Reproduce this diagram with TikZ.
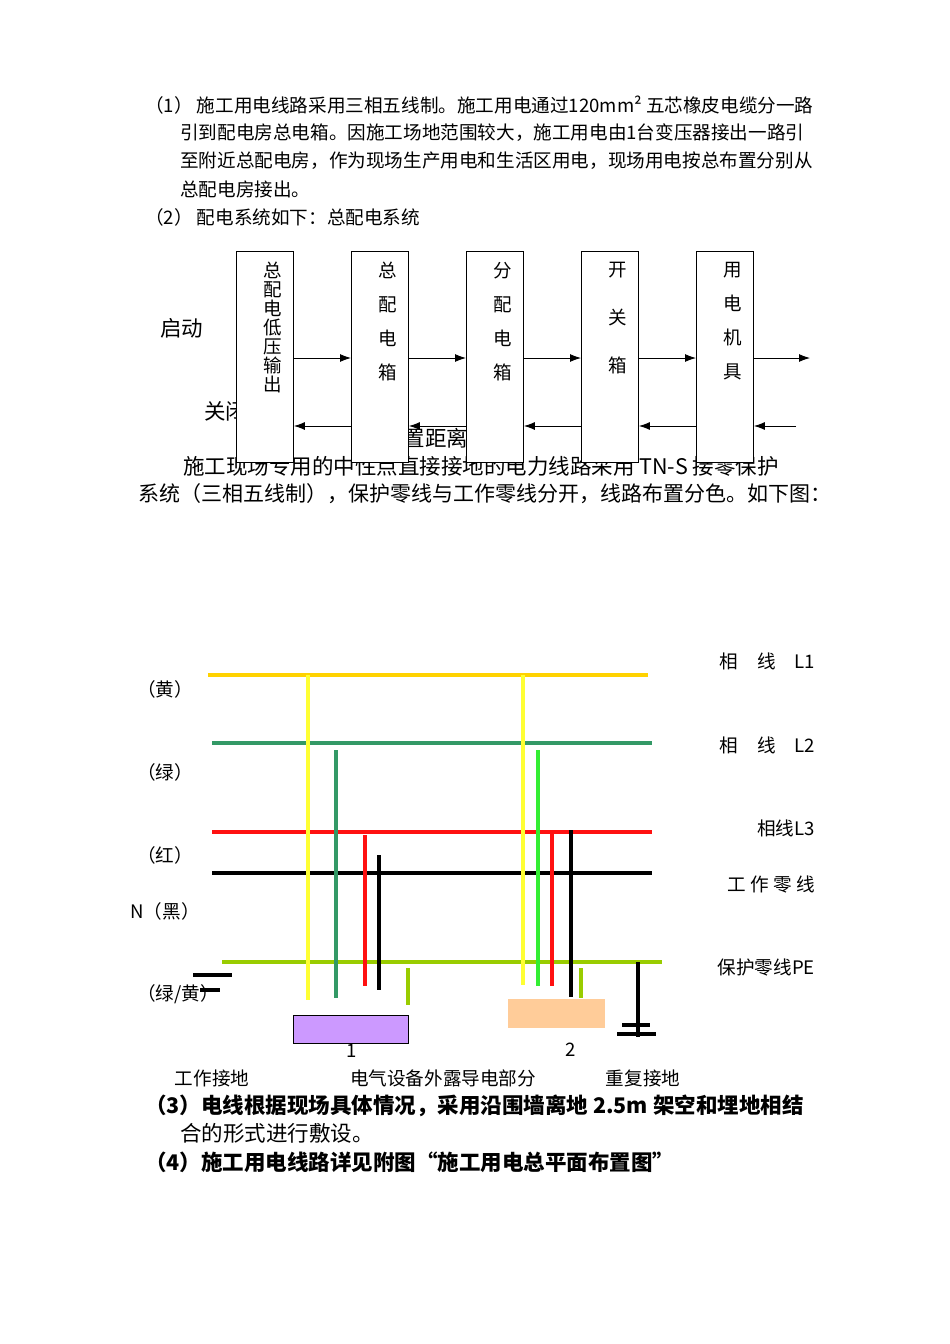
\documentclass[tikz,border=0pt]{standalone}
\usepackage{fontspec}
\usetikzlibrary{arrows.meta}
\setmainfont{Noto Sans CJK SC}
\begin{document}
\begin{tikzpicture}[x=1pt,y=-1pt,
  t/.style={inner sep=0pt,font=\fontsize{18.6}{19}\selectfont},
  tb/.style={inner sep=0pt,font=\fontsize{21.5}{22}\selectfont\bfseries},
  tl/.style={inner sep=0pt,font=\fontsize{21.5}{22}\selectfont},
  bx/.style={draw,fill=white,minimum width=57pt,minimum height=211pt,inner sep=0pt,line width=0.9pt},
  bt/.style={inner sep=0pt,font=\fontsize{18.5}{22}\selectfont,align=center},
  ar/.style={-{Latex[length=11pt,width=8pt]},line width=0.9pt},
  wl/.style={line width=4pt}]
\useasboundingbox (0,0) rectangle (950,1344);
\fill[white] (0,0) rectangle (950,1344);
% paragraph
\node[t,anchor=west] (p1) at (145,105) {（1）\ 施工用电线路采用三相五线制。施工用电通过120mm² 五芯橡皮电缆分一路};
\node[t,anchor=west] (p2) at (180,133) {引到配电房总电箱。因施工场地范围较大，施工用电由1台变压器接出一路引};
\node[t,anchor=west] (p3) at (180,161) {至附近总配电房，作为现场生产用电和生活区用电，现场用电按总布置分别从};
\node[t,anchor=west] (p4) at (180,189) {总配电房接出。};
\node[t,anchor=west] (p5) at (145,217) {（2）\ 配电系统如下：总配电系统};
% hidden texts
\node[tl,anchor=west] (qd) at (160,328) {启动};
\node[tl,anchor=west] (gb) at (204,411) {关闭};
\node[tl,anchor=west] (jl) at (382,438) {布置距离。};
\node[tl,anchor=west] (pa) at (183,466) {施工现场专用的中性点直接接地的电力线路采用 TN-S 接零保护};
\node[tl,anchor=west,font=\fontsize{21}{22}\selectfont] (pb) at (138,494) {系统（三相五线制），保护零线与工作零线分开，线路布置分色。如下图：};
% boxes
\node[bx,anchor=north west] (b1) at (236,251) {};
\node[bx,anchor=north west] (b2) at (351,251) {};
\node[bx,anchor=north west] (b3) at (466,251) {};
\node[bx,anchor=north west] (b4) at (581,251) {};
\node[bx,anchor=north west] (b5) at (696,251) {};
\node[bt,anchor=north] (t1) at (273,262) {总\\[-3pt]配\\[-3pt]电\\[-3pt]低\\[-3pt]压\\[-3pt]输\\[-3pt]出};
\node[bt,anchor=north] (t2) at (388,262) {总\\[12pt]配\\[12pt]电\\[12pt]箱};
\node[bt,anchor=north] (t3) at (503,262) {分\\[12pt]配\\[12pt]电\\[12pt]箱};
\node[bt,anchor=north] (t4) at (618,262) {开\\[26pt]关\\[26pt]箱};
\node[bt,anchor=north] (t5) at (733,262) {用\\[12pt]电\\[12pt]机\\[12pt]具};
\coordinate (e1) at (810,358);
\coordinate (e2) at (796,426);
\foreach \a/\b in {b1/b2,b2/b3,b3/b4,b4/b5}{
  \draw[ar] (\a.east|-0,358) -- (\b.west|-0,358);
  \draw[ar] (\b.west|-0,426) -- (\a.east|-0,426);}
\draw[ar] (b5.east|-0,358) -- (e1);
\draw[ar] (e2) -- (b5.east|-0,426);
% wiring diagram
\definecolor{yl}{HTML}{FFD200}\definecolor{yy}{HTML}{FFFF33}
\definecolor{dg}{HTML}{339966}\definecolor{bg}{HTML}{33EE33}
\definecolor{rd}{HTML}{FF1111}\definecolor{pe}{HTML}{99CC00}
\coordinate (l1a) at (208,675); \coordinate (l1b) at (648,675);
\coordinate (l2a) at (212,743); \coordinate (l2b) at (652,743);
\coordinate (l3a) at (212,832); \coordinate (l3b) at (652,832);
\coordinate (na) at (212,873); \coordinate (nb) at (652,873);
\coordinate (pa1) at (222,962); \coordinate (pb1) at (662,962);
\draw[wl,draw=yl] (l1a)--(l1b);
\draw[wl,draw=dg] (l2a)--(l2b);
\draw[wl,draw=rd] (l3a)--(l3b);
\draw[wl,draw=black] (na)--(nb);
\draw[wl,draw=pe] (pa1)--(pb1);
\draw[wl,draw=yy] (308,675)--(308,1000);
\draw[wl,draw=dg] (336,750)--(336,998);
\draw[wl,draw=rd] (365,835)--(365,986);
\draw[wl,draw=black] (379,855)--(379,990);
\draw[wl,draw=pe] (408,968)--(408,1005);
\draw[wl,draw=yy] (523,675)--(523,985);
\draw[wl,draw=bg] (538,750)--(538,986);
\draw[wl,draw=rd] (552,830)--(552,986);
\draw[wl,draw=black] (571,830)--(571,997);
\draw[wl,draw=pe] (581,968)--(581,998);
\draw[wl,draw=black] (638,962)--(638,1037);
\draw[wl,draw=black] (193,975)--(232,975);
\draw[wl,draw=black] (200,990)--(220,990);
\draw[wl,draw=black] (622,1025)--(650,1025);
\draw[wl,draw=black] (617,1034)--(656,1034);
\node[draw,fill={rgb,255:red,204;green,153;blue,255},minimum width=115pt,minimum height=28pt,anchor=north west,inner sep=0pt] (eq1) at (293,1015) {};
\node[fill={rgb,255:red,255;green,204;blue,153},minimum width=97pt,minimum height=29pt,anchor=north west,inner sep=0pt] (eq2) at (508,999) {};
\node[t] (n1) at (352,1051) {1};
\node[t] (n2) at (571,1050) {2};
\node[t] (g1) at (212,1078) {工作接地};
\node[t] (g2) at (443,1078) {电气设备外露导电部分};
\node[t] (g3) at (643,1078) {重复接地};
\node[t] (c1) at (165,689) {（黄）};
\node[t] (c2) at (165,772) {（绿）};
\node[t] (c3) at (165,855) {（红）};
\node[t] (c4) at (165,911) {N（黑）};
\node[t] (c5) at (178,994) {（绿/黄）};
\node[t,anchor=east] (r1) at (815,661) {相\quad 线\quad L1};
\node[t,anchor=east] (r2) at (815,745) {相\quad 线\quad L2};
\node[t,anchor=east] (r3) at (815,828) {相线L3};
\node[t,anchor=east] (r4) at (815,884) {工\ 作\ 零\ 线};
\node[t,anchor=east] (r5) at (815,967) {保护零线PE};
% bottom
\node[tb,anchor=west] (s1) at (145,1106) {（3）电线根据现场具体情况，采用沿围墙离地 2.5m 架空和埋地相结};
\node[tl,anchor=west] (s2) at (180,1133) {合的形式进行敷设。};
\node[tb,anchor=west] (s3) at (145,1162) {（4）施工用电线路详见附图“施工用电总平面布置图”};
\end{tikzpicture}
\end{document}
